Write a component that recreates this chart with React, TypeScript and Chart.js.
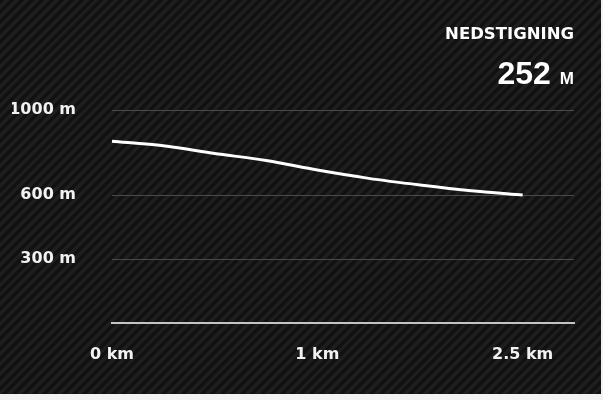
import React, { useEffect, useRef } from 'react';
import { Chart, registerables } from 'chart.js';

Chart.register(...registerables);

// Data
const distanceLabels = ['0 km', '', '', '', '1 km', '', '', '', '2.5 km', ''];
const elevation = [853, 832, 796, 763, 718, 679, 648, 621, 601];
const yTickValues = [0, 300, 600, 1000];
const headerTitle = 'NEDSTIGNING';
const descentValue = 252;
const descentUnit = 'M';

export default function App() {
  const ref = useRef<HTMLCanvasElement>(null);

  useEffect(() => {
    document.body.style.margin = '0';
    const tickFont = { family: 'DejaVu Sans', weight: 'bold' as const, size: 16 };
    const chart = new Chart(ref.current!, {
      type: 'line',
      data: {
        labels: distanceLabels,
        datasets: [
          {
            data: elevation,
            borderColor: '#ffffff',
            borderWidth: 3,
            pointRadius: 0,
            tension: 0.3,
            fill: false,
          },
        ],
      },
      options: {
        animation: false,
        responsive: false,
        maintainAspectRatio: false,
        layout: { padding: { left: 12, right: 27, top: 110, bottom: 21 } },
        plugins: { legend: { display: false }, tooltip: { enabled: false } },
        scales: {
          x: {
            grid: { display: false, drawTicks: false },
            border: { display: true, color: '#c4c4c4', width: 2 },
            ticks: {
              autoSkip: false,
              maxRotation: 0,
              color: '#f2f2f2',
              font: tickFont,
              padding: 22,
            },
            afterFit: (s: any) => {
              s.height = 50;
            },
          },
          y: {
            min: 0,
            max: 1000,
            afterBuildTicks: (s: any) => {
              s.ticks = yTickValues.map((v) => ({ value: v }));
            },
            grid: {
              color: (c: any) => (c.tick && c.tick.value === 0 ? 'rgba(0,0,0,0)' : '#4a4a4a'),
              lineWidth: 1,
              drawTicks: false,
            },
            border: { display: false },
            ticks: {
              color: '#f2f2f2',
              font: tickFont,
              padding: 36,
              callback: (v: any) => (Number(v) === 0 ? '' : v + ' m'),
            },
            afterFit: (s: any) => {
              s.width = 100;
            },
          },
        },
      },
    });
    return () => chart.destroy();
  }, []);

  return (
    <div style={{ width: 603, height: 400, background: '#f2f2f2', position: 'relative' }}>
      <div
        style={{
          position: 'absolute',
          left: 0,
          top: 0,
          width: 601,
          height: 394,
          background:
            'repeating-linear-gradient(135deg, #111111 0px, #111111 3.5px, #1e1e1e 3.5px, #1e1e1e 7px)',
        }}
      >
        <canvas ref={ref} width={601} height={394} style={{ position: 'absolute', left: 0, top: 0 }} />
        <div
          style={{
            position: 'absolute',
            right: 27,
            top: 26,
            color: '#ffffff',
            fontFamily: 'DejaVu Sans',
            fontWeight: 'bold',
            fontSize: 16.5,
            lineHeight: 1,
            whiteSpace: 'nowrap',
          }}
        >
          {headerTitle}
        </div>
        <div
          style={{
            position: 'absolute',
            right: 27,
            top: 57,
            color: '#ffffff',
            fontFamily: 'Liberation Sans',
            fontWeight: 'bold',
            fontSize: 32,
            lineHeight: 1,
            whiteSpace: 'nowrap',
          }}
        >
          {descentValue}
          <span style={{ fontSize: 17, marginLeft: 9 }}>{descentUnit}</span>
        </div>
      </div>
    </div>
  );
}
